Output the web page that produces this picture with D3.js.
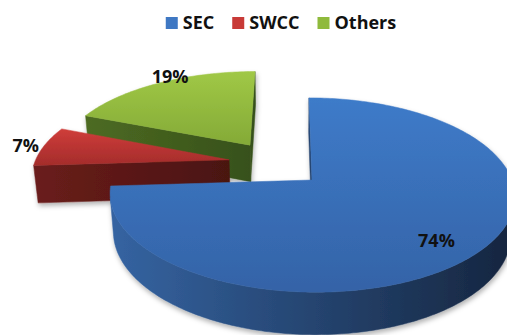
<!DOCTYPE html>
<html>
<head>
<meta charset="utf-8">
<script src="https://cdn.jsdelivr.net/npm/d3@7/dist/d3.min.js"></script>
<style>
  body { margin: 0; background: #fff; }
  svg { display: block; }
  text { font-family: "Open Sans", sans-serif; font-weight: 700; fill: #111; }
</style>
</head>
<body>
<div id="chart"></div>
<script>
// data
const categories = ['SEC', 'SWCC', 'Others'];
const shares = [74, 7, 19];
const labels = ['74%', '7%', '19%'];

const svgWidth = 507;
const svgHeight = 335;

// colours per category: top face (light, dark), side (light, dark)
const palette = {
    SEC: { key: '#3f78c3', top: ['#3e7bc9', '#3463a7'], side: ['#3564a2', '#162640'] },
    SWCC: { key: '#c83a37', top: ['#cf3d3a', '#a42c2b'], side: ['#6a1d1b', '#4a1311'] },
    Others: { key: '#8fba3c', top: ['#a0c846', '#84aa37'], side: ['#4d6b22', '#36501a'] }
};

// 3d layout (world units, pie radius = 1)
const R = 1;
const H = 0.22;
const explode = { SEC: [0, 0], SWCC: [-0.425, 0.22], Others: [-0.322, 0.39] };
// label position: radius and fraction along the slice's arc
const labelAt = { SEC: [0.8, 0.51], SWCC: [1.1, 0.5], Others: [1.06, 0.58] };
const cam = { cx: 289.6, cy: 180, x: -0.112, f: 1138, d: 5.69, elev: 28.3 * Math.PI / 180 };
const sE = Math.sin(cam.elev);
const cE = Math.cos(cam.elev);
const camPos = [cam.x, -cam.d * cE, cam.d * sE];

const project = (X, Y, Z) => {
    const up = Y * sE + Z * cE;
    const depth = cam.d + Y * cE - Z * sE;
    return [cam.cx + cam.f * (X - cam.x) / depth, cam.cy - cam.f * up / depth];
};

const facing = (n, p) =>
    n[0] * (camPos[0] - p[0]) + n[1] * (camPos[1] - p[1]) + n[2] * (camPos[2] - p[2]) > 0;

const svg = d3
    .select('#chart')
    .append('svg')
    .attr('width', svgWidth)
    .attr('height', svgHeight);

const defs = svg.append('defs');

const grad = (id, c0, c1, horizontal, x0, x1) => {
    const g = defs
        .append('linearGradient')
        .attr('id', id)
        .attr('gradientUnits', 'userSpaceOnUse')
        .attr('x1', horizontal ? x0 : 0)
        .attr('x2', horizontal ? x1 : 0)
        .attr('y1', horizontal ? 0 : x0)
        .attr('y2', horizontal ? 0 : x1);
    g.append('stop').attr('offset', 0).attr('stop-color', c0);
    g.append('stop').attr('offset', 1).attr('stop-color', c1);
};

const shadow = defs
    .append('filter')
    .attr('id', 'shadow')
    .attr('x', '-10%')
    .attr('y', '-10%')
    .attr('width', '130%')
    .attr('height', '130%');
shadow
    .append('feDropShadow')
    .attr('dx', 1)
    .attr('dy', 3)
    .attr('stdDeviation', 2.5)
    .attr('flood-color', '#000')
    .attr('flood-opacity', 0.3);

const pie = d3
    .pie()
    .sort(null)
    .value(d => d.value)
    .startAngle(0)
    .endAngle(2 * Math.PI);

const data = categories.map((c, i) => ({ name: c, value: shares[i], label: labels[i] }));
const arcs = pie(data);

const line = d3.line();
const step = Math.PI / 180;

const arcPoints = (a0, a1, ox, oy, z) => {
    const n = Math.max(2, Math.ceil((a1 - a0) / step));
    return d3.range(n + 1).map(i => {
        const a = a0 + (a1 - a0) * i / n;
        return project(ox + R * Math.sin(a), oy + R * Math.cos(a), z);
    });
};

const drawSlice = (g, d) => {
    const name = d.data.name;
    const col = palette[name];
    const [ox, oy] = explode[name];
    const a0 = d.startAngle;
    const a1 = d.endAngle;
    const apexTop = project(ox, oy, 0);
    const apexBot = project(ox, oy, -H);
    const topArc = arcPoints(a0, a1, ox, oy, 0);
    const botArc = arcPoints(a0, a1, ox, oy, -H);
    const xs = topArc.map(p => p[0]).concat([apexTop[0]]);
    const ys = topArc.map(p => p[1]).concat([apexTop[1]]);
    const xMin = d3.min(xs);
    const xMax = d3.max(xs);

    grad(`side-${name}`, col.side[0], col.side[1], true, xMin, Math.min(xMax, svgWidth));
    grad(`top-${name}`, col.top[0], col.top[1], false, d3.min(ys), d3.max(ys));

    // radial faces
    [
        { a: a0, n: [-Math.cos(a0), Math.sin(a0), 0], pts: [topArc[0], botArc[0]] },
        { a: a1, n: [Math.cos(a1), -Math.sin(a1), 0], pts: [topArc[topArc.length - 1], botArc[botArc.length - 1]] }
    ].forEach(face => {
        const p = [ox + 0.5 * Math.sin(face.a), oy + 0.5 * Math.cos(face.a), -H / 2];
        if (!facing(face.n, p)) return;
        g.append('path')
            .attr('d', line([apexTop, face.pts[0], face.pts[1], apexBot]) + 'Z')
            .attr('fill', `url(#side-${name})`)
            .attr('stroke', `url(#side-${name})`)
            .attr('stroke-width', 0.5);
    });

    // outer curved side, split into visible runs
    const n = topArc.length - 1;
    let run = null;
    const runs = [];
    for (let i = 0; i < n; i++) {
        const a = a0 + (a1 - a0) * (i + 0.5) / n;
        const nv = [Math.sin(a), Math.cos(a), 0];
        const p = [ox + Math.sin(a), oy + Math.cos(a), -H / 2];
        if (facing(nv, p)) {
            if (!run) {
                run = [i, i + 1];
                runs.push(run);
            } else run[1] = i + 1;
        } else run = null;
    }
    runs.forEach(([i0, i1]) => {
        const pts = topArc.slice(i0, i1 + 1).concat(botArc.slice(i0, i1 + 1).reverse());
        g.append('path')
            .attr('d', line(pts) + 'Z')
            .attr('fill', `url(#side-${name})`)
            .attr('stroke', `url(#side-${name})`)
            .attr('stroke-width', 0.5);
    });

    // top face
    g.append('path')
        .attr('d', line([apexTop].concat(topArc)) + 'Z')
        .attr('fill', `url(#top-${name})`)
        .attr('stroke', `url(#top-${name})`)
        .attr('stroke-width', 0.5);
};

const pieGroup = svg.append('g').attr('filter', 'url(#shadow)');

// back to front
['Others', 'SWCC', 'SEC'].forEach(name => {
    const d = arcs.find(a => a.data.name === name);
    drawSlice(pieGroup.append('g').attr('class', 'slice'), d);
});

// labels
svg.selectAll('.label')
    .data(arcs)
    .enter()
    .append('text')
    .attr('class', 'label')
    .attr('text-anchor', 'middle')
    .attr('dominant-baseline', 'central')
    .attr('font-size', 18)
    .attr('transform', d => {
        const [ox, oy] = explode[d.data.name];
        const [r, t] = labelAt[d.data.name];
        const m = d.startAngle + (d.endAngle - d.startAngle) * t;
        const p = project(ox + r * Math.sin(m), oy + r * Math.cos(m), 0);
        return `translate(${p[0]},${p[1]})`;
    })
    .text(d => d.data.label);

// legend
const legend = svg.append('g').attr('class', 'legend');
let lx = 0;
categories.forEach(c => {
    const item = legend.append('g').attr('transform', `translate(${lx},0)`);
    item.append('rect')
        .attr('x', 0)
        .attr('y', 17)
        .attr('width', 12)
        .attr('height', 12)
        .attr('fill', palette[c].key);
    const t = item.append('text')
        .attr('x', 17)
        .attr('y', 29)
        .attr('font-size', 18)
        .text(c);
    lx += 17 + t.node().getComputedTextLength() + 18;
});
const legendWidth = lx - 18;
legend.attr('transform', `translate(${281 - legendWidth / 2},0)`);
</script>
</body>
</html>
